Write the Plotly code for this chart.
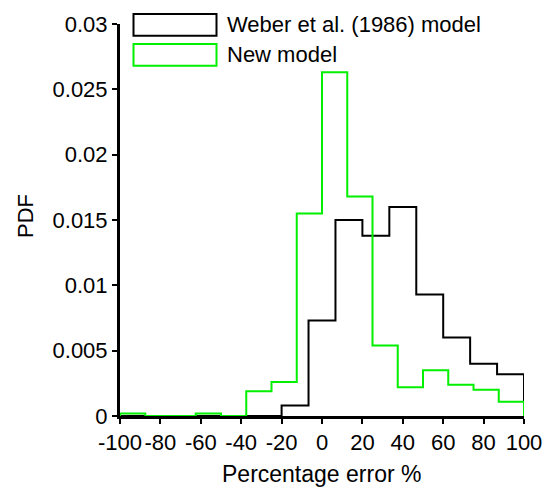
import plotly.graph_objects as go

# ---- data ----
new_edges = [-100, -87.5, -75, -62.5, -50, -37.5, -25, -12.5, 0, 12.5, 25, 37.5, 50, 62.5, 75, 87.5, 100]
new_pdf = [0.0002, 0, 0, 0.0002, 0, 0.0019, 0.0026, 0.0155, 0.0263, 0.0168, 0.0054, 0.0022, 0.0035, 0.0024, 0.0020, 0.0011]

weber_edges = [-100, -86.67, -73.33, -60, -46.67, -33.33, -20, -6.67, 6.67, 20, 33.33, 46.67, 60, 73.33, 86.67, 100]
weber_pdf = [0, 0, 0, 0, 0, 0, 0.0008, 0.0073, 0.0150, 0.0138, 0.0160, 0.0093, 0.0060, 0.0040, 0.0032]

series_names = ["Weber et al. (1986) model", "New model"]
x_tickvals = [-100, -80, -60, -40, -20, 0, 20, 40, 60, 80, 100]
x_ticktext = ["-100", "-80", "-60", "-40", "-20", "0", "20", "40", "60", "80", "100"]
y_tickvals = [0, 0.005, 0.01, 0.015, 0.02, 0.025, 0.03]
y_ticktext = ["0", "0.005", "0.01", "0.015", "0.02", "0.025", "0.03"]
x_title = "Percentage error %"
y_title = "PDF"

FONT = "Liberation Sans, Arial, sans-serif"
GREEN = "#00f000"


def step_xy(edges, vals):
    xs = [edges[0]] + list(edges) + [edges[-1]]
    ys = [0] + list(vals) + [vals[-1], 0]
    return xs, ys


fig = go.Figure()
wx, wy = step_xy(weber_edges, weber_pdf)
nx, ny = step_xy(new_edges, new_pdf)
fig.add_trace(go.Scatter(x=wx, y=wy, mode="lines", line=dict(shape="hv", color="black", width=2),
                         name=series_names[0], showlegend=False))
fig.add_trace(go.Scatter(x=nx, y=ny, mode="lines", line=dict(shape="hv", color=GREEN, width=2),
                         name=series_names[1], showlegend=False))

# manual legend (boxes + labels)
W, H = 550, 491
ml, mr, mt, mb = 120, 26, 24, 75
pw, ph = W - ml - mr, H - mt - mb


def px(xp):
    return (xp - ml) / pw


def py(yp):
    return 1 - (yp - mt) / ph


legend_items = [(series_names[0], "black", 14, 35.7), (series_names[1], GREEN, 44, 65.7)]
for name, col, y0, y1 in legend_items:
    fig.add_shape(type="rect", xref="paper", yref="paper",
                  x0=px(133.5), x1=px(216.5), y0=py(y1), y1=py(y0),
                  line=dict(color=col, width=2), fillcolor="rgba(0,0,0,0)")
    fig.add_annotation(xref="paper", yref="paper", x=px(225), y=py((y0 + y1) / 2),
                       text=name, showarrow=False, xanchor="left", yanchor="middle",
                       font=dict(family=FONT, size=22, color="black"))

# axis titles
fig.add_annotation(xref="paper", yref="paper", x=px(321), y=py(474), text=x_title,
                   showarrow=False, xanchor="center", yanchor="middle",
                   font=dict(family=FONT, size=23, color="black"))
fig.add_annotation(xref="paper", yref="paper", x=px(25), y=py(216), text=y_title,
                   showarrow=False, xanchor="center", yanchor="middle", textangle=-90,
                   font=dict(family=FONT, size=22, color="black"))

fig.update_layout(
    width=W, height=H,
    margin=dict(l=ml, r=mr, t=mt, b=mb, pad=0, autoexpand=False),
    plot_bgcolor="white", paper_bgcolor="white",
    font=dict(family=FONT, size=22, color="black"),
    showlegend=False,
)
fig.update_xaxes(range=[-100, 100], tickvals=x_tickvals, ticktext=x_ticktext, automargin=False,
                 showgrid=False, zeroline=False, showline=True, linecolor="black", linewidth=3,
                 ticks="outside", ticklen=5, tickwidth=2, tickcolor="black",
                 layer="below traces", tickfont=dict(family=FONT, size=22))
fig.update_yaxes(range=[0, 0.03], tickvals=y_tickvals, ticktext=y_ticktext, automargin=False,
                 showgrid=False, zeroline=False, showline=True, linecolor="black", linewidth=3,
                 ticks="outside", ticklen=5, tickwidth=2, tickcolor="black",
                 layer="below traces", tickfont=dict(family=FONT, size=22))

fig.write_html("out.html")
